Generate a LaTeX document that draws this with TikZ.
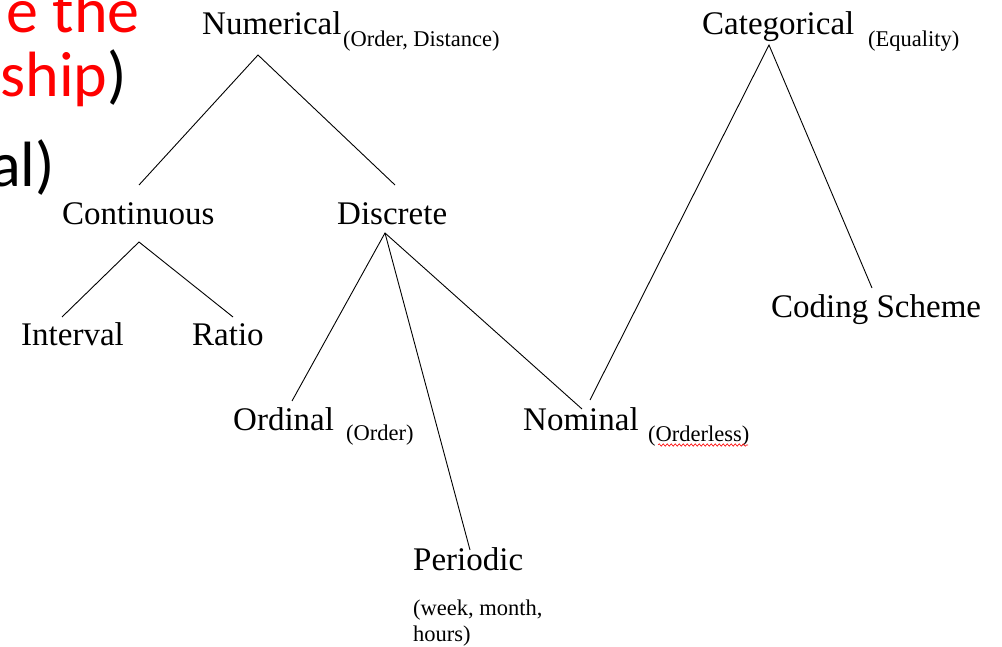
\documentclass[tikz,border=0pt]{standalone}
\usepackage{fontspec}
\setmainfont{Liberation Serif}
\newfontfamily\calib{Carlito}
\usetikzlibrary{decorations.pathmorphing}
\tikzset{
  big/.style={inner sep=0pt, anchor=base west, font=\fontsize{33}{40}\selectfont},
  small/.style={inner sep=0pt, anchor=base west, font=\fontsize{22.5}{27}\selectfont},
  slide/.style={inner sep=0pt, anchor=base east, font=\calib\fontsize{64}{77}\selectfont},
  link/.style={draw=black, line width=0.9pt},
}
\begin{document}
\begin{tikzpicture}[x=1pt,y=-1pt]
\useasboundingbox[fill=white] (0,0) rectangle (1002,647);
% cropped slide text
\node[slide, text=red] (s1) at (140,33) {e the};
\node[slide] (s2) at (127,97) {\textcolor{red}{ship})};
\node[slide] (s3) at (55,187) {al)};
% labels
\node[big] (num) at (202,35) {Numerical};
\node[small] (numS) at (343,47) {(Order, Distance)};
\node[big] (cat) at (702,35) {Categorical};
\node[small] (catS) at (868,47) {(Equality)};
\node[big] (cont) at (62,225) {Continuous};
\node[big] (disc) at (337,225) {Discrete};
\node[big] (intv) at (21,345) {Interval};
\node[big] (ratio) at (192,345) {Ratio};
\node[big] (code) at (771,318) {Coding Scheme};
\node[big] (ord) at (233,430) {Ordinal};
\node[small] (ordS) at (346,440) {(Order)};
\node[big] (nom) at (523,430) {Nominal};
\node[small] (nomS) at (648,441) {(Orderless)};
\node[big] (per) at (413,570) {Periodic};
\node[small] (perA) at (413,615) {(week, month,};
\node[small] (perB) at (413,641) {hours)};
% connector ends
\coordinate (numA) at (258,55);
\coordinate (contT) at (139,185);
\coordinate (discT) at (395,185);
\coordinate (contA) at (139,242);
\coordinate (intvT) at (62,317);
\coordinate (ratioT) at (233,317);
\coordinate (discA) at (385,233);
\coordinate (ordT) at (292,401);
\coordinate (perT) at (470,550);
\coordinate (nomT1) at (582,409);
\coordinate (nomT2) at (590,400);
\coordinate (catA) at (769,45);
\coordinate (codeT) at (872,288);
% connectors
\draw[link] (contT) -- (numA) -- (discT);
\draw[link] (intvT) -- (contA) -- (ratioT);
\draw[link] (ordT) -- (discA) -- (nomT1);
\draw[link] (discA) -- (perT);
\draw[link] (nomT2) -- (catA) -- (codeT);
% spell-check squiggle
\coordinate (sqA) at (658,445);
\coordinate (sqB) at (748,445);
\draw[red, line width=0.6pt, decorate, decoration={snake, amplitude=1.2pt, segment length=4pt}] (sqA) -- (sqB);
\end{tikzpicture}
\end{document}
